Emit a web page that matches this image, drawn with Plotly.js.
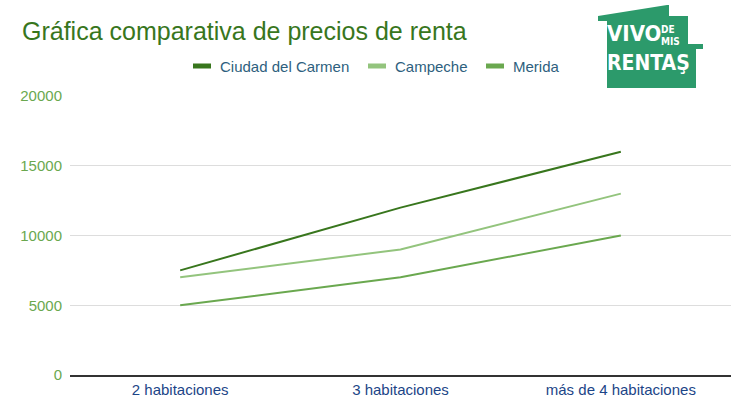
<!DOCTYPE html>
<html>
<head>
<meta charset="utf-8">
<script src="https://cdn.plot.ly/plotly-3.0.1.min.js"></script>
<style>
html, body { margin: 0; padding: 0; background: #fff; }
#myDiv { width: 747px; height: 418px; }
</style>
</head>
<body>
<div id="myDiv"></div>
<script>
// datos
const categorias = ['2 habitaciones', '3 habitaciones', 'más de 4 habitaciones']
const carmen   = [7500, 12000, 16000]
const campeche = [7000, 9000, 13000]
const merida   = [5000, 7000, 10000]
const nombres  = ['Ciudad del Carmen', 'Campeche', 'Merida']
const colores  = ['#38761d', '#93c47d', '#6aa84f']
const yTicks   = [0, 5000, 10000, 15000, 20000]

// medidas
const W = 747, H = 418
const M = {l: 70, r: 16, t: 96, b: 43}
const px = x => (x - M.l) / (W - M.l - M.r)
const py = y => (H - M.b - y) / (H - M.t - M.b)

const series = [carmen, campeche, merida]
const data = series.map((s, i) => ({
	x: categorias, y: s, name: nombres[i], type: 'scatter', mode: 'lines',
	line: {color: colores[i], width: 2}, hoverinfo: 'skip'
}))

// leyenda manual
const legX = [193, 368, 486]
const shapes = []
const annotations = []
nombres.forEach((n, i) => {
	shapes.push({type: 'line', xref: 'paper', yref: 'paper',
		x0: px(legX[i]), x1: px(legX[i] + 18), y0: py(66), y1: py(66),
		line: {color: colores[i], width: 5}})
	annotations.push({text: n, xref: 'paper', yref: 'paper', x: px(legX[i] + 25), y: py(66),
		xanchor: 'left', yanchor: 'middle', showarrow: false,
		font: {family: 'Arial, Liberation Sans, sans-serif', size: 15, color: '#2e5f7e'}})
})

// logo
const casa = [[598,16],[667,5],[669,5],[669,16],[688,16],[688,44],[703,44],[703,49],[696,49],[696,88],[607,88],[607,21],[598,21]]
shapes.push({type: 'path', xref: 'paper', yref: 'paper', layer: 'above',
	path: 'M ' + casa.map(p => px(p[0]) + ',' + py(p[1])).join(' L ') + ' Z',
	fillcolor: '#2c9a6b', line: {width: 0}})
const logoFont = 'Liberation Sans Narrow, DejaVu Sans Condensed, Arial Narrow, sans-serif'
const logoTxt = [
	['<b>VIVO</b>', 634, 34, 22],
	['<b>DE</b>', 668, 29, 10],
	['<b>MIS</b>', 670, 41, 10],
	['<b>RENTAŞ</b>', 648, 63, 21]
]
logoTxt.forEach(t => annotations.push({text: t[0], xref: 'paper', yref: 'paper',
	x: px(t[1]), y: py(t[2]), xanchor: 'center', yanchor: 'middle', showarrow: false,
	font: {family: logoFont, size: t[3], color: '#ffffff'}}))

const layout = {
	width: W, height: H,
	margin: M,
	paper_bgcolor: '#fff', plot_bgcolor: '#fff',
	showlegend: false,
	title: {
		text: 'Gráfica comparativa de precios de renta',
		x: 22 / W, xref: 'container', xanchor: 'left',
		y: 1 - 22 / H, yref: 'container', yanchor: 'top',
		font: {family: 'Arial, Liberation Sans, sans-serif', size: 25, color: '#38761d'}
	},
	xaxis: {
		range: [-0.5, 2.5], showgrid: false, zeroline: false,
		showline: true, linecolor: '#333333', linewidth: 1.5,
		ticks: '', ticklabelstandoff: 0,
		tickfont: {family: 'Arial, Liberation Sans, sans-serif', size: 15, color: '#1c4587'}
	},
	yaxis: {
		range: [0, 20000], tickvals: yTicks, ticktext: yTicks.map(String),
		showgrid: true, gridcolor: '#dddddd', gridwidth: 1, zeroline: false,
		ticks: '', ticklen: 0, ticklabelstandoff: 7,
		tickfont: {family: 'Arial, Liberation Sans, sans-serif', size: 15, color: '#6aa84f'}
	},
	shapes: shapes,
	annotations: annotations
}

Plotly.newPlot('myDiv', data, layout, {displayModeBar: false, staticPlot: true})
</script>
</body>
</html>
